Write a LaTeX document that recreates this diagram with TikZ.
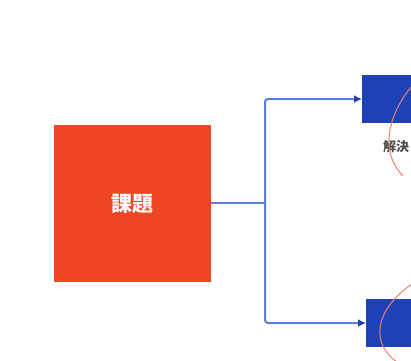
\documentclass[tikz,border=0pt]{standalone}
\usepackage{fontspec}
\newfontfamily\cjk{Noto Sans CJK JP}
\usetikzlibrary{arrows.meta}
\definecolor{kadai}{HTML}{EE4523}
\definecolor{kblue}{HTML}{1D42B5}
\definecolor{klink}{HTML}{5A7EDC}
\definecolor{kcurve}{HTML}{F0806E}
\tikzset{
  box/.style={draw=none, inner sep=0pt, outer sep=0pt},
  conn/.style={draw=klink, line width=2bp, rounded corners=3bp},
  arr/.style={conn, -{Latex[length=8bp,width=8bp,color=kblue]}},
  curve/.style={draw=kcurve, line width=1bp}
}
\begin{document}
\begin{tikzpicture}[x=1bp,y=-1bp]
\useasboundingbox (0,0) rectangle (411,361);
\clip (0,0) rectangle (411,361);
\node[box, fill=kadai, minimum width=157bp, minimum height=157bp] (red) at (132.5,203.5) {\cjk\bfseries\fontsize{21bp}{24bp}\selectfont\color{white}課題};
\node[box, fill=kblue, minimum width=100bp, minimum height=48bp, anchor=west] (top) at (362,99) {};
\node[box, fill=kblue, minimum width=100bp, minimum height=48bp, anchor=west] (bot) at (366,323) {};
\node[anchor=west, inner sep=0pt, text=black!70] (sol) at (383,147) {\cjk\bfseries\fontsize{13bp}{15bp}\selectfont 解決};
\coordinate (j) at (265,203);
\draw[conn] (red.east |- j) -- (j);
\draw[arr] (j) |- (top.west);
\draw[arr] (j) |- (bot.west);
\draw[curve] (412,86) .. controls (393,108) and (376,148) .. (403,176);
\draw[curve] (412,284) .. controls (372,312) and (372,345) .. (397,362);
\end{tikzpicture}
\end{document}
